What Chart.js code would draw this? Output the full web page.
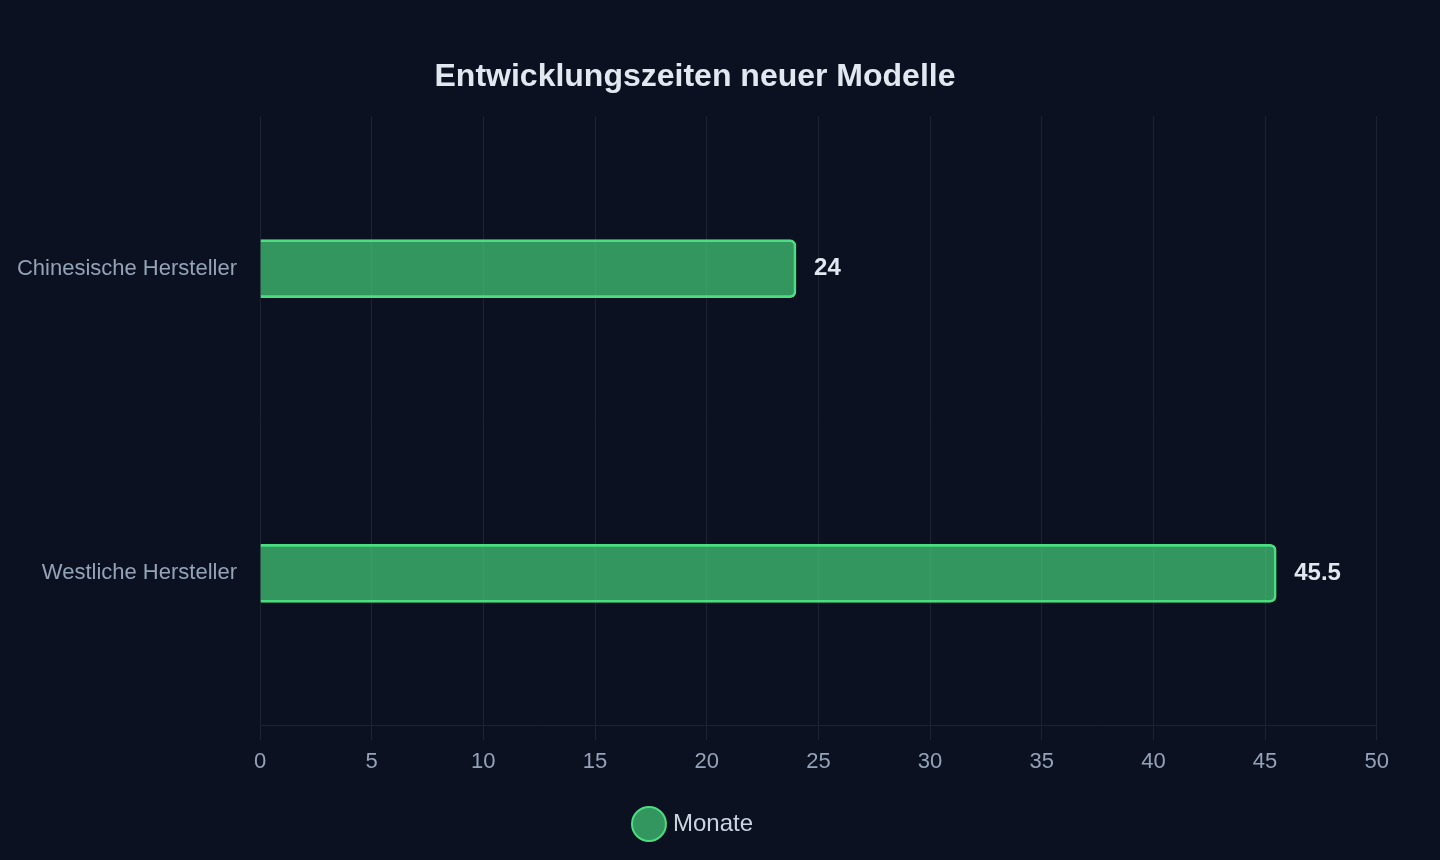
<!DOCTYPE html>
<html lang="de">
<head>
<meta charset="utf-8">
<title>Entwicklungszeiten neuer Modelle</title>
<script src="https://cdn.jsdelivr.net/npm/chart.js@4.4.1/dist/chart.umd.min.js"></script>
<style>
  html, body { margin: 0; padding: 0; background: #0b1120; }
  .chart-box { position: relative; width: 1397px; height: 860px; }
</style>
</head>
<body>
<div class="chart-box"><canvas id="chEntwicklung"></canvas></div>
<script>
// Daten
const hersteller = ["Chinesische Hersteller", "Westliche Hersteller"];
const monate = [24, 45.5];
const serienName = "Monate";
const xMin = 0;
const xMax = 50;
const xSchritt = 5;

Chart.defaults.font.family = "'Liberation Sans', Arial, Helvetica, sans-serif";

// Wert rechts neben jedem Balken anzeigen
const wertLabels = {
  id: "wertLabels",
  afterDatasetsDraw(chart) {
    const { ctx } = chart;
    chart.data.datasets.forEach((ds, i) => {
      chart.getDatasetMeta(i).data.forEach((bar, j) => {
        ctx.save();
        ctx.font = "bold 24px 'Liberation Sans', Arial, sans-serif";
        ctx.fillStyle = "#e2e8f0";
        ctx.textAlign = "left";
        ctx.textBaseline = "middle";
        ctx.fillText(String(ds.data[j]), bar.x + 18, bar.y);
        ctx.restore();
      });
    });
  },
};

new Chart(document.getElementById("chEntwicklung"), {
  type: "bar",
  data: {
    labels: hersteller,
    datasets: [{
      label: serienName,
      data: monate,
      backgroundColor: "rgba(74,222,128,0.65)",
      borderColor: "#4ade80",
      borderWidth: 2,
      borderRadius: 6,
      barThickness: 58,
    }],
  },
  options: {
    indexAxis: "y",
    responsive: true,
    maintainAspectRatio: false,
    animation: false,
    layout: { padding: { left: 0, right: 7, top: 20, bottom: 14 } },
    plugins: {
      title: {
        display: true,
        text: "Entwicklungszeiten neuer Modelle",
        color: "#e2e8f0",
        font: { size: 32, weight: "bold" },
        padding: { top: 38, bottom: 20 },
      },
      legend: {
        position: "bottom",
        labels: {
          usePointStyle: true,
          pointStyle: "circle",
          color: "#cbd5e1",
          font: { size: 24 },
          padding: 14,
        },
      },
      tooltip: { enabled: false },
    },
    scales: {
      x: {
        min: xMin,
        max: xMax,
        ticks: { stepSize: xSchritt, color: "#94a3b8", font: { size: 22 }, padding: 8 },
        grid: { color: "rgba(148,163,184,0.13)", tickLength: 15 },
        border: { color: "rgba(148,163,184,0.13)" },
        afterFit(scale) { scale.height += 15; },
      },
      y: {
        ticks: { color: "#94a3b8", font: { size: 22 }, padding: 15 },
        grid: { display: false },
        border: { display: false },
        afterFit(scale) { scale.width = 260; },
      },
    },
  },
  plugins: [wertLabels],
});
</script>
</body>
</html>
